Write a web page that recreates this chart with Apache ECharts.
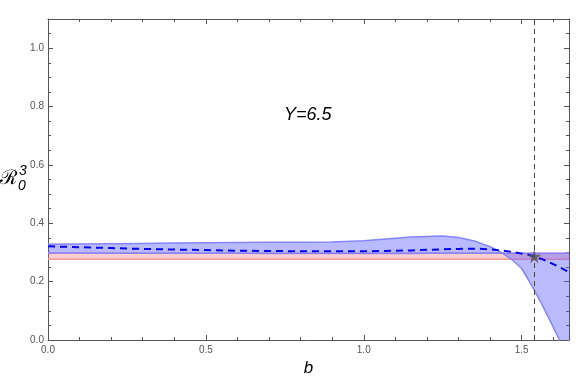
<!DOCTYPE html>
<html>
<head>
<meta charset="utf-8">
<script src="https://cdn.jsdelivr.net/npm/echarts@6/dist/echarts.min.js"></script>
<style>
  html, body { margin: 0; padding: 0; background: #fff; }
  #main { width: 576px; height: 385px; }
</style>
</head>
<body>
<div id="main"></div>
<script>
// sample points along b
var bValues = [0, 0.1, 0.2, 0.3, 0.4, 0.5, 0.6, 0.7, 0.8, 0.9, 1.0, 1.1, 1.15, 1.2, 1.25, 1.3, 1.35,
  1.4, 1.435, 1.47, 1.5, 1.52, 1.54, 1.56, 1.58, 1.6, 1.62, 1.65];

// blue band edges
var blueEdgeA = [0.328, 0.329, 0.330, 0.331, 0.332, 0.333, 0.334, 0.335, 0.335, 0.336, 0.340, 0.349, 0.353, 0.355, 0.356, 0.351, 0.339,
  0.320, 0.300, 0.275, 0.245, 0.209, 0.171, 0.131, 0.088, 0.044, 0.0, -0.07];
var blueEdgeB = [0.298, 0.298, 0.297, 0.297, 0.297, 0.297, 0.297, 0.296, 0.296, 0.296, 0.296, 0.296, 0.296, 0.297, 0.297, 0.297, 0.297,
  0.297, 0.297, 0.297, 0.297, 0.297, 0.297, 0.297, 0.297, 0.297, 0.297, 0.297];

// blue dashed central curve
var blueCentral = [0.321, 0.318, 0.315, 0.312, 0.310, 0.308, 0.306, 0.305, 0.304, 0.304, 0.304, 0.306, 0.307, 0.309, 0.311, 0.312, 0.313,
  0.311, 0.307, 0.302, 0.296, 0.292, 0.287, 0.279, 0.270, 0.260, 0.250, 0.233];

// red band
var redLow = [0.277, 0.277, 0.277, 0.277, 0.277, 0.277, 0.277, 0.277, 0.277, 0.277, 0.277, 0.277, 0.277, 0.277, 0.277, 0.277, 0.277,
  0.277, 0.277, 0.277, 0.277, 0.277, 0.277, 0.277, 0.277, 0.277, 0.277, 0.277];
var redHigh = [0.297, 0.297, 0.297, 0.297, 0.297, 0.297, 0.297, 0.297, 0.297, 0.297, 0.297, 0.297, 0.297, 0.297, 0.297, 0.297, 0.297,
  0.297, 0.297, 0.297, 0.297, 0.297, 0.297, 0.297, 0.297, 0.297, 0.297, 0.297];

var markerB = 1.54;
var starPoint = [1.54, 0.287];
var panelLabel = 'Y=6.5';

var xMajor = [0, 0.5, 1.0, 1.5];
var yMajor = [0, 0.2, 0.4, 0.6, 0.8, 1.0];

function pairs(ys) {
  return bValues.map(function (x, i) { return [x, ys[i]]; });
}

// filled region between two edges, drawn through the axis scales
function bandSeries(lowArr, highArr, fill, z) {
  return {
    type: 'custom', coordinateSystem: 'cartesian2d', data: [[0, 0]], z: z, silent: true,
    renderItem: function (params, api) {
      var pts = [];
      for (var i = 0; i < bValues.length; i++) pts.push(api.coord([bValues[i], Math.max(0, highArr[i])]));
      for (var j = bValues.length - 1; j >= 0; j--) pts.push(api.coord([bValues[j], Math.max(0, lowArr[j])]));
      return { type: 'polygon', shape: { points: pts }, style: { fill: fill, stroke: null } };
    }
  };
}

var axisColor = '#555';
var labelFont = { color: '#555', fontSize: 10, fontFamily: 'Liberation Sans' };

function fmt(list) {
  return function (v) {
    for (var i = 0; i < list.length; i++) {
      if (Math.abs(list[i] - v) < 1e-6) return v.toFixed(1);
    }
    return '';
  };
}

function xAx(pos, interval, len, labels, line) {
  return {
    type: 'value', position: pos, min: 0, max: 1.65, interval: interval,
    axisLine: { show: line, onZero: false, lineStyle: { color: axisColor, width: 1 } },
    axisTick: { show: true, inside: true, length: len, lineStyle: { color: axisColor } },
    axisLabel: Object.assign({ show: labels, margin: 5, formatter: fmt(xMajor), showMaxLabel: false }, labelFont),
    splitLine: { show: false }
  };
}
function yAx(pos, interval, len, labels, line) {
  return {
    type: 'value', position: pos, min: 0, max: 1.1, interval: interval,
    axisLine: { show: line, onZero: false, lineStyle: { color: axisColor, width: 1 } },
    axisTick: { show: true, inside: true, length: len, lineStyle: { color: axisColor } },
    axisLabel: Object.assign({ show: labels, margin: 4, formatter: fmt(yMajor), showMaxLabel: false }, labelFont),
    splitLine: { show: false }
  };
}

var chart = echarts.init(document.getElementById('main'));
chart.setOption({
  animation: false,
  backgroundColor: '#fff',
  grid: { left: 48, right: 7, top: 19, bottom: 45, outerBoundsMode: 'none' },
  xAxis: [
    Object.assign(xAx('bottom', 0.5, 5, true, true), {
      name: 'b', nameLocation: 'middle', nameGap: 16,
      nameTextStyle: { fontSize: 17, fontStyle: 'italic', fontFamily: 'Liberation Sans', color: '#000', verticalAlign: 'top' }
    }),
    xAx('bottom', 0.1, 3, false, false),
    xAx('top', 0.5, 5, false, true),
    xAx('top', 0.1, 3, false, false)
  ],
  yAxis: [
    yAx('left', 0.2, 5, true, true),
    yAx('left', 0.05, 3, false, false),
    yAx('right', 0.2, 5, false, true),
    yAx('right', 0.05, 3, false, false)
  ],
  graphic: [
    { type: 'text', left: 0, top: 169, style: { text: 'ℛ', fontSize: 20, fontFamily: 'DejaVu Serif', fill: '#000' } },
    { type: 'text', left: 19, top: 164, style: { text: '3', fontSize: 14, fontStyle: 'italic', fontFamily: 'Liberation Sans', fill: '#000' } },
    { type: 'text', left: 18, top: 179, style: { text: '0', fontSize: 14, fontStyle: 'italic', fontFamily: 'Liberation Sans', fill: '#000' } },
    { type: 'text', left: 284, top: 106, z: 10, style: { text: panelLabel, fontSize: 18, fontStyle: 'italic', fontFamily: 'Liberation Sans', fill: '#000' } }
  ],
  series: [
    bandSeries(redLow, redHigh, 'rgba(255,110,110,0.33)', 1),
    { type: 'line', data: pairs(redLow), symbol: 'none', lineStyle: { color: '#ff9a9a', width: 1.5 }, z: 2 },
    { type: 'line', data: pairs(redHigh), symbol: 'none', lineStyle: { color: '#ff9a9a', width: 1.5 }, z: 2 },

    bandSeries(blueEdgeB, blueEdgeA, 'rgba(90,90,255,0.42)', 3),
    { type: 'line', data: pairs(blueEdgeA), symbol: 'none', lineStyle: { color: '#8585ff', width: 1.5 }, z: 4 },
    { type: 'line', data: pairs(blueEdgeB), symbol: 'none', lineStyle: { color: '#8585ff', width: 1.5 }, z: 4 },

    { type: 'line', data: pairs(blueCentral), symbol: 'none',
      lineStyle: { color: '#0000ee', width: 2, type: [7, 5] }, z: 6 },

    { type: 'scatter', data: [starPoint], z: 7,
      symbol: 'path://M50,0 L61,35 L98,35 L68,57 L79,91 L50,70 L21,91 L32,57 L2,35 L39,35 Z',
      symbolSize: 14, itemStyle: { color: '#555' },
      markLine: {
        silent: true, symbol: 'none', label: { show: false },
        lineStyle: { color: '#444', width: 1, type: [5, 4] },
        data: [{ xAxis: markerB }]
      }
    }
  ]
});
</script>
</body>
</html>
